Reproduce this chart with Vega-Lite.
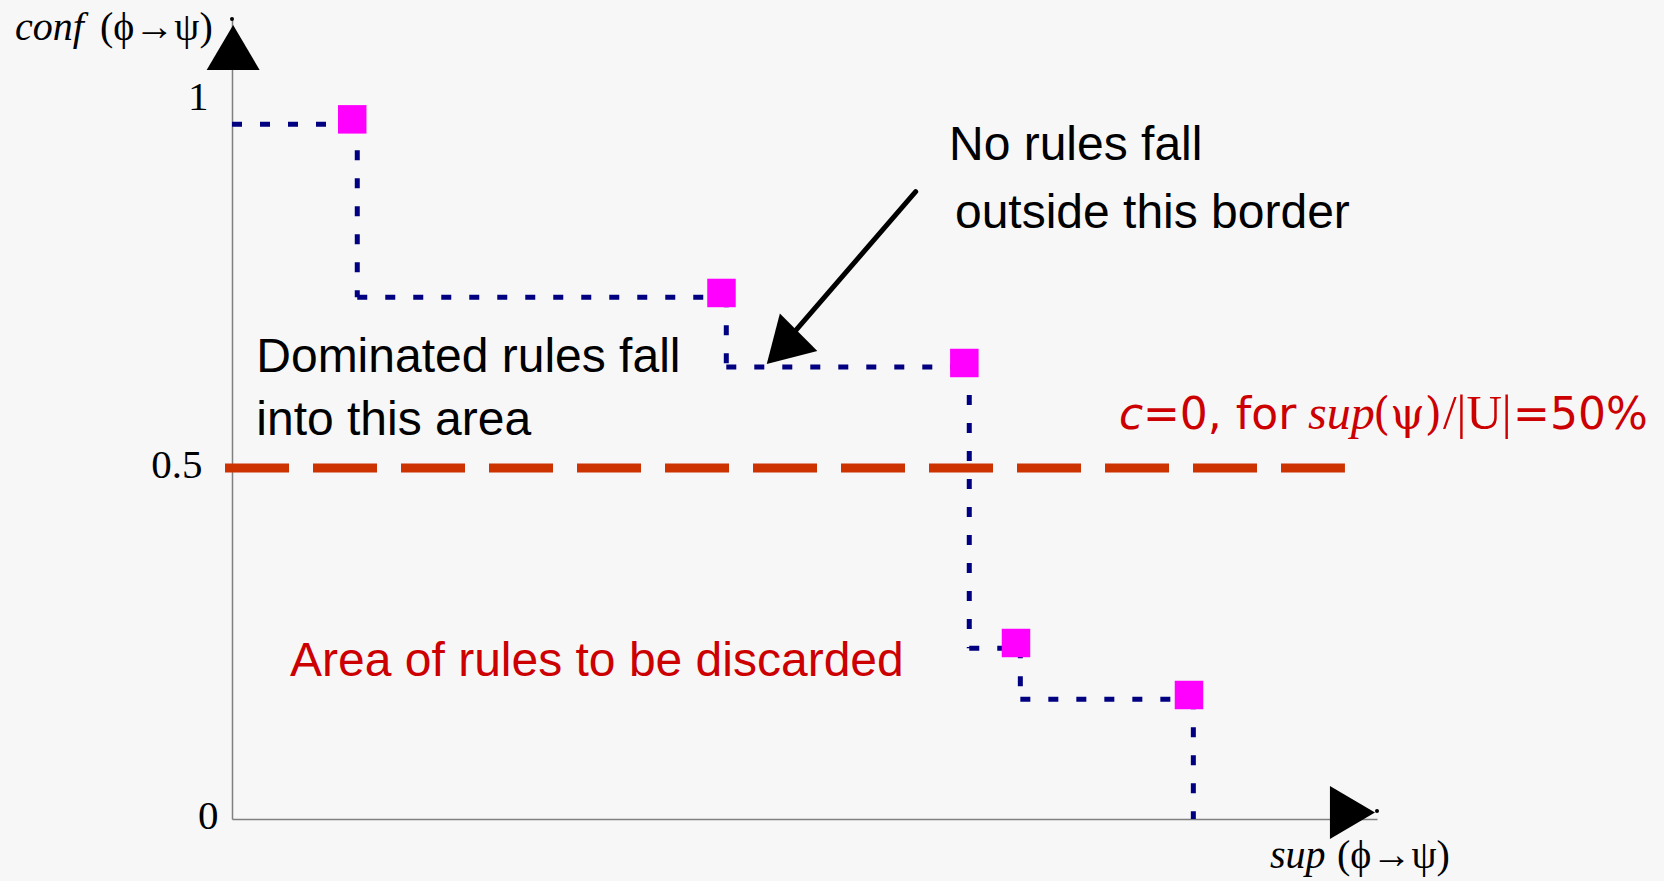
{
  "$schema": "https://vega.github.io/schema/vega-lite/v6.json",
  "width": 1145,
  "height": 800,
  "autosize": {"type": "none"},
  "padding": {"left": 232, "top": 19, "right": 287, "bottom": 62},
  "background": "#f7f7f7",
  "config": {"view": {"stroke": null}},
  "datasets": {
    "rules": [
      {"sup": 0.105, "conf": 0.997},
      {"sup": 0.4275, "conf": 0.7496},
      {"sup": 0.6396, "conf": 0.6498},
      {"sup": 0.6847, "conf": 0.2508},
      {"sup": 0.8358, "conf": 0.1767}
    ],
    "border": [
      {"sup": 0, "conf": 0.99, "sup2": 0.1094, "conf2": 0.99},
      {"sup": 0.1094, "conf": 0.993, "sup2": 0.1094, "conf2": 0.7434},
      {"sup": 0.1094, "conf": 0.7434, "sup2": 0.4317, "conf2": 0.7434},
      {"sup": 0.4317, "conf": 0.7434, "sup2": 0.4317, "conf2": 0.6441},
      {"sup": 0.4317, "conf": 0.6441, "sup2": 0.6439, "conf2": 0.6441},
      {"sup": 0.6439, "conf": 0.6441, "sup2": 0.6439, "conf2": 0.2432},
      {"sup": 0.6439, "conf": 0.2432, "sup2": 0.6885, "conf2": 0.2432},
      {"sup": 0.6885, "conf": 0.2432, "sup2": 0.6885, "conf2": 0.1706},
      {"sup": 0.6885, "conf": 0.1706, "sup2": 0.8396, "conf2": 0.1706},
      {"sup": 0.8396, "conf": 0.1706, "sup2": 0.8396, "conf2": 0}
    ]
  },
  "encoding": {
    "x": {"field": "sup", "type": "quantitative", "scale": {"domain": [0, 1], "nice": false, "zero": false},
          "axis": {"title": null, "labels": false, "ticks": false, "grid": false, "domain": true, "domainColor": "#808080", "domainWidth": 1.5}},
    "y": {"field": "conf", "type": "quantitative", "scale": {"domain": [0, 1.14], "nice": false, "zero": false},
          "axis": {"title": null, "values": [0, 0.5, 1], "format": "~g", "ticks": false, "grid": false, "domain": true, "domainColor": "#808080", "domainWidth": 1.5,
                   "labelFont": "Liberation Serif", "labelFontSize": 41, "labelColor": "#000000", "labelBaseline": "alphabetic",
                   "labelOffset": {"condition": {"test": "datum.value === 1", "value": -8}, "value": 9},
                   "labelPadding": {"condition": [{"test": "datum.value === 1", "value": 24}, {"test": "datum.value === 0", "value": 14}], "value": 30}}}
  },
  "layer": [
    {
      "data": {"values": [{"conf": 0.5, "sup": -0.0061, "sup2": 0.972}]},
      "mark": {"type": "rule", "color": "#cc3300", "strokeWidth": 9, "strokeDash": [64, 24]},
      "encoding": {"x2": {"field": "sup2"}}
    },
    {
      "data": {"name": "border"},
      "mark": {"type": "rule", "color": "#000080", "strokeWidth": 5, "strokeDash": [10, 18]},
      "encoding": {"x2": {"field": "sup2"}, "y2": {"field": "conf2"}}
    },
    {
      "data": {"name": "rules"},
      "mark": {"type": "point", "shape": "square", "size": 812, "filled": true, "opacity": 1, "color": "#ff00ff"}
    },
    {
      "data": {"values": [{"sup": 0.5971, "conf": 0.8939, "sup2": 0.4873, "conf2": 0.6868}]},
      "mark": {"type": "rule", "color": "#000000", "strokeWidth": 5, "strokeCap": "round"},
      "encoding": {"x2": {"field": "sup2"}, "y2": {"field": "conf2"}}
    },
    {
      "data": {"values": [{"sup": 0.4834, "conf": 0.675}]},
      "mark": {"type": "point", "shape": "M0,-1L1,0.7L-1,0.7Z", "size": 2809, "angle": 225, "filled": true, "opacity": 1, "color": "#000000"}
    },
    {
      "data": {"values": [{"sup": 0.001, "conf": 1.0937}]},
      "mark": {"type": "point", "shape": "M0,-1L1,0.7L-1,0.7Z", "size": 2809, "angle": 0, "filled": true, "opacity": 1, "color": "#000000"}
    },
    {
      "data": {"values": [{"sup": 0.9751, "conf": 0.0093}]},
      "mark": {"type": "point", "shape": "M0,-1L1,0.7L-1,0.7Z", "size": 2809, "angle": 90, "filled": true, "opacity": 1, "color": "#000000"}
    },
    {
      "data": {"values": [{"sup": 0, "conf": 1.14}, {"sup": 1.0, "conf": 0.0114}]},
      "mark": {"type": "point", "shape": "circle", "size": 16, "filled": true, "opacity": 1, "color": "#000000"}
    },
    {
      "data": {"values": [
        {"sup": 0.6262, "conf": 0.9391, "label": "No rules fall"},
        {"sup": 0.6314, "conf": 0.8422, "label": "outside this border"},
        {"sup": 0.0212, "conf": 0.6374, "label": "Dominated rules fall"},
        {"sup": 0.0212, "conf": 0.5472, "label": "into this area"}
      ]},
      "mark": {"type": "text", "font": "Liberation Sans", "fontSize": 48, "align": "left", "baseline": "alphabetic", "color": "#000000"},
      "encoding": {"text": {"field": "label"}}
    },
    {
      "data": {"values": [{"sup": 0.0507, "conf": 0.2038, "label": "Area of rules to be discarded"}]},
      "mark": {"type": "text", "font": "Liberation Sans", "fontSize": 48, "align": "left", "baseline": "alphabetic", "color": "#cc0000"},
      "encoding": {"text": {"field": "label"}}
    },
    {
      "data": {"values": [
        {"sup": -0.1895, "conf": 1.11, "label": "conf"},
        {"sup": 0.9066, "conf": -0.0698, "label": "sup"}
      ]},
      "mark": {"type": "text", "font": "Liberation Serif", "fontStyle": "italic", "fontSize": 40, "align": "left", "baseline": "alphabetic", "color": "#000000"},
      "encoding": {"text": {"field": "label"}}
    },
    {
      "data": {"values": [
        {"sup": -0.1153, "conf": 1.11, "label": "(ϕ→ψ)"},
        {"sup": 0.9651, "conf": -0.0698, "label": "(ϕ→ψ)"}
      ]},
      "mark": {"type": "text", "font": "Liberation Serif", "fontSize": 40, "align": "left", "baseline": "alphabetic", "color": "#000000"},
      "encoding": {"text": {"field": "label"}}
    },
    {
      "data": {"values": [{"sup": 0.7747, "conf": 0.5558, "label": "c"}]},
      "mark": {"type": "text", "font": "DejaVu Sans", "fontStyle": "italic", "fontSize": 44, "align": "left", "baseline": "alphabetic", "color": "#cc0000"},
      "encoding": {"text": {"field": "label"}}
    },
    {
      "data": {"values": [
        {"sup": 0.7956, "conf": 0.5558, "label": "=0, for"},
        {"sup": 1.1188, "conf": 0.5558, "label": "=50%"}
      ]},
      "mark": {"type": "text", "font": "DejaVu Sans", "fontSize": 44, "align": "left", "baseline": "alphabetic", "color": "#cc0000"},
      "encoding": {"text": {"field": "label"}}
    },
    {
      "data": {"values": [{"sup": 0.9397, "conf": 0.5558, "label": "sup"}]},
      "mark": {"type": "text", "font": "Liberation Serif", "fontStyle": "italic", "fontSize": 48, "align": "left", "baseline": "alphabetic", "color": "#cc0000"},
      "encoding": {"text": {"field": "label"}}
    },
    {
      "data": {"values": [{"sup": 0.9965, "conf": 0.5558, "label": "(ψ)"}]},
      "mark": {"type": "text", "font": "DejaVu Serif", "fontSize": 44, "align": "left", "baseline": "alphabetic", "color": "#cc0000"},
      "encoding": {"text": {"field": "label"}}
    },
    {
      "data": {"values": [{"sup": 1.0576, "conf": 0.5558, "label": "/|U|"}]},
      "mark": {"type": "text", "font": "Liberation Serif", "fontSize": 49, "align": "left", "baseline": "alphabetic", "color": "#cc0000"},
      "encoding": {"text": {"field": "label"}}
    }
  ]
}
